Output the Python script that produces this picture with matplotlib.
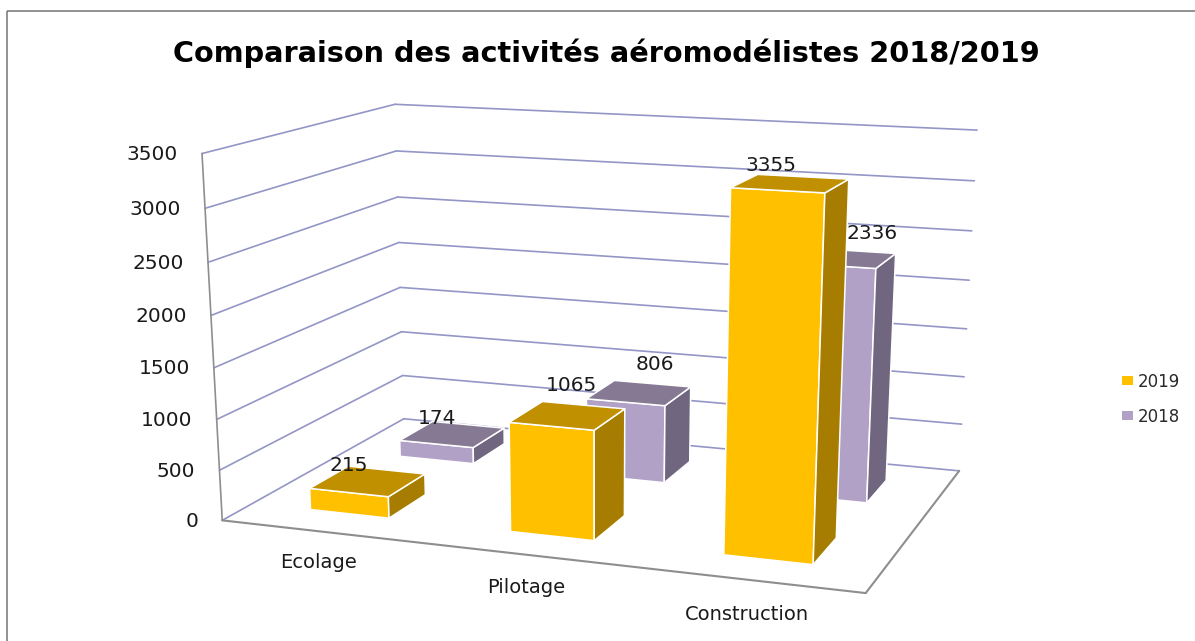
"""Comparaison des activités aéromodélistes, barres en fausse 3D."""

import matplotlib

matplotlib.use("Agg")
import matplotlib.pyplot as plt
import numpy as np
from matplotlib.patches import Polygon, Rectangle

TITRE = "Comparaison des activités aéromodélistes 2018/2019"
categories = ["Ecolage", "Pilotage", "Construction"]
series = ["2019", "2018"]
valeurs_2019 = [215, 1065, 3355]
valeurs_2018 = [174, 806, 2336]
graduations = [0, 500, 1000, 1500, 2000, 2500, 3000, 3500]

VMAX = 3500
# repere : x categories (0-3), y profondeur (0-2), z valeur
REPERE = [
    ((0, 0, 0), (222, 520)),
    ((0, 2, 0), (404, 419)),
    ((3, 2, 0), (959, 471)),
    ((3, 0, 0), (866, 593)),
    ((0, 0, VMAX), (202, 154)),
    ((0, 2, VMAX), (395, 104)),
    ((3, 2, VMAX), (977, 130)),
]

COULEURS = {
    "2019": ("#FFC000", "#C09000", "#A67D00"),
    "2018": ("#B2A1C7", "#857993", "#716680"),
}
GRILLE = "#9396C6"
AXE = "#8E8E8E"
LARG = 0.2
PROF = 0.205
# decalage des etiquettes par rapport au centre du dessus de la barre
DECALAGES = {
    "2019": [(-19, -16), (4, -30), (-19, -18)],
    "2018": [(-15, -16), (16, -28), (28, -25)],
}


def calibrer(repere):
    """Matrice de projection 3x4 (DLT) a partir des points du repere."""
    lignes = []
    for (x, y, z), (u, v) in repere:
        z = z / VMAX
        lignes.append([x, y, z, 1, 0, 0, 0, 0, -u * x, -u * y, -u * z, -u])
        lignes.append([0, 0, 0, 0, x, y, z, 1, -v * x, -v * y, -v * z, -v])
    _, _, vt = np.linalg.svd(np.array(lignes, dtype=float))
    return vt[-1].reshape(3, 4)


MATRICE = calibrer(REPERE)


def proj(x, y, z):
    p = MATRICE @ np.array([x, y, z / VMAX, 1.0])
    return p[0] / p[2], p[1] / p[2]


def face(ax, points, couleur, ordre):
    ax.add_patch(
        Polygon(
            [proj(*p) for p in points],
            closed=True,
            facecolor=couleur,
            edgecolor="white",
            linewidth=1.1,
            joinstyle="round",
            zorder=ordre,
        )
    )


def barre(ax, i, j, valeur, couleurs, ordre):
    x0, x1 = i + 0.5 - LARG, i + 0.5 + LARG
    y0, y1 = j + 0.5 - PROF, j + 0.5 + PROF
    avant, dessus, cote = couleurs
    face(ax, [(x0, y0, 0), (x1, y0, 0), (x1, y0, valeur), (x0, y0, valeur)], avant, ordre)
    face(ax, [(x1, y0, 0), (x1, y1, 0), (x1, y1, valeur), (x1, y0, valeur)], cote, ordre)
    face(ax, [(x0, y0, valeur), (x1, y0, valeur), (x1, y1, valeur), (x0, y1, valeur)], dessus, ordre)


def trait(ax, a, b, couleur, largeur=1.2, ordre=2):
    (xa, ya), (xb, yb) = proj(*a), proj(*b)
    ax.plot([xa, xb], [ya, yb], color=couleur, linewidth=largeur, zorder=ordre, solid_capstyle="round")


fig = plt.figure(figsize=(11.95, 6.41), dpi=100)
ax = fig.add_axes([0, 0, 1, 1])
ax.set_xlim(0, 1195)
ax.set_ylim(641, 0)
ax.axis("off")

# cadre du graphique
ax.add_patch(Rectangle((7.5, 10.5), 1300, 800, fill=False, edgecolor="#7F7F7F", linewidth=1.2))

ax.text(606, 53, TITRE, ha="center", va="center", fontsize=20.7, fontweight="bold", color="black")

# murs : grille
for g in graduations:
    trait(ax, (0, 0, g), (0, 2, g), GRILLE)
    trait(ax, (0, 2, g), (3, 2, g), GRILLE)
    xt, yt = proj(0, 0, g)
    ax.text(xt - 24, yt + 1, f"{g}", ha="right", va="center", fontsize=14.5, color="#1a1a1a")

# sol et axe vertical
trait(ax, (0, 0, 0), (0, 0, VMAX), AXE)
trait(ax, (0, 0, 0), (3, 0, 0), AXE, 1.5)
trait(ax, (3, 0, 0), (3, 2, 0), AXE, 1.5)

for i, nom in enumerate(categories):
    xt, yt = proj(i + 0.5, 0, 0)
    ax.text(xt - 2, yt + 31 + 2 * i, nom, ha="center", va="center", fontsize=14, color="#1a1a1a")

# du fond vers l'avant
for j, (nom, vals) in reversed(list(enumerate(zip(series, [valeurs_2019, valeurs_2018])))):
    for i, v in enumerate(vals):
        barre(ax, i, j, v, COULEURS[nom], 5 + (1 - j) * 3 + i * 0.1)
        xt, yt = proj(i + 0.5, j + 0.5, v)
        dx, dy = DECALAGES[nom][i]
        ax.text(xt + dx, yt + dy, f"{v}", ha="center", va="center", fontsize=14.5, color="#1a1a1a", zorder=20)

# legende
for nom, y in zip(series, [381, 416]):
    ax.add_patch(Rectangle((1122.5, y - 5), 10.5, 9, facecolor=COULEURS[nom][0], edgecolor="none"))
    ax.text(1138, y + 1, nom, ha="left", va="center", fontsize=12, color="#2a2a2a")

fig.savefig("out.png", dpi=100)
plt.close(fig)
